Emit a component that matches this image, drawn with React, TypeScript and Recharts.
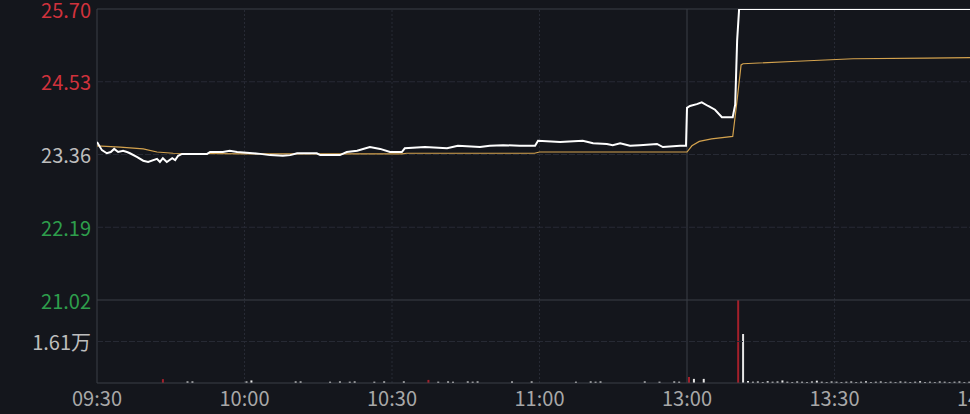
import React from 'react';
import { LineChart, ComposedChart, Line, Bar, Cell, XAxis, YAxis, ReferenceLine } from 'recharts';

// minutes since 09:30 (trading minutes, 11:30 == 13:00 == 120)
const priceMinutes = [0, 1.0, 2.0, 2.8, 3.5, 4.3, 5.3, 6.1, 6.7, 8.1, 9.4, 10.4, 12.2, 12.8, 13.4, 14.2, 15.3, 15.9, 16.5, 17.3, 22.4, 23.0, 25.6, 27.0, 28.5, 33.2, 35.2, 37.8, 39.3, 40.7, 44.7, 45.4, 49.4, 50.8, 52.9, 55.5, 57.6, 59.6, 62.0, 62.6, 66.7, 71.2, 73.4, 77.9, 79.9, 82.6, 86.0, 89.1, 89.7, 94.2, 98.8, 100.9, 103.7, 104.9, 106.4, 108.4, 110.4, 113.9, 115.1, 118.6, 119.8, 120, 120.6, 122.0, 123.0, 124.3, 125.7, 127.1, 129.3, 129.8, 130.2, 130.6, 180];
const priceValues = [23.56, 23.43, 23.38, 23.40, 23.45, 23.40, 23.42, 23.40, 23.38, 23.32, 23.26, 23.24, 23.29, 23.24, 23.30, 23.24, 23.30, 23.27, 23.34, 23.37, 23.37, 23.40, 23.40, 23.42, 23.40, 23.37, 23.35, 23.34, 23.35, 23.38, 23.38, 23.35, 23.35, 23.40, 23.42, 23.48, 23.45, 23.40, 23.40, 23.46, 23.48, 23.46, 23.50, 23.48, 23.50, 23.51, 23.50, 23.50, 23.58, 23.56, 23.58, 23.54, 23.53, 23.51, 23.54, 23.50, 23.51, 23.53, 23.48, 23.50, 23.50, 24.11, 24.14, 24.17, 24.20, 24.14, 24.08, 23.96, 23.96, 24.16, 25.20, 25.70, 25.70];

const avgMinutes = [0, 4.7, 9.4, 12.2, 15.5, 30, 62, 63, 89, 90, 120, 121, 122.5, 125, 129.3, 130.2, 131, 131.4, 142.4, 153.8, 168.8, 180];
const avgValues = [23.50, 23.48, 23.45, 23.40, 23.38, 23.37, 23.37, 23.38, 23.38, 23.40, 23.40, 23.50, 23.57, 23.61, 23.65, 24.24, 24.80, 24.82, 24.86, 24.90, 24.91, 24.92];

const volMinutes = [13, 18, 19, 30, 31, 40, 41, 47, 49, 51, 52, 56, 58, 62, 67, 69, 71, 72, 75, 76, 77, 84, 88, 97, 100, 101, 102, 111, 114, 117, 118, 120, 121, 123, 130, 131,
  132, 133, 134, 135, 136, 137, 138, 139, 140, 141, 142, 143, 144, 145, 146, 147, 148, 149, 150, 151, 152, 153, 154, 155, 156, 157, 158, 159, 160, 161, 162, 163, 164, 165, 166, 167, 168, 169, 170, 171, 172, 173, 174, 175, 176, 177, 178, 179];
const volValues = [0.15, 0.06, 0.06, 0.06, 0.10, 0.06, 0.06, 0.05, 0.06, 0.05, 0.06, 0.05, 0.06, 0.06, 0.12, 0.05, 0.06, 0.05, 0.06, 0.05, 0.06, 0.06, 0.06, 0.05, 0.06, 0.05, 0.06, 0.06, 0.05, 0.06, 0.05, 0.23, 0.16, 0.16, 3.22, 1.90,
  0.08, 0.05, 0.06, 0.04, 0.07, 0.05, 0.06, 0.10, 0.05, 0.04, 0.06, 0.05, 0.04, 0.06, 0.09, 0.05, 0.04, 0.06, 0.05, 0.04, 0.05, 0.06, 0.04, 0.05, 0.07, 0.04, 0.05, 0.06, 0.04, 0.05, 0.04, 0.06, 0.05, 0.04, 0.05, 0.07, 0.04, 0.05, 0.04, 0.06, 0.05, 0.04, 0.05, 0.06, 0.04, 0.05, 0.04, 0.05];
const redMinutes = [13, 67, 120, 130];

const preClose = 23.36;
const priceTicks = [21.02, 22.19, 23.36, 24.53, 25.70];
const volTicks = [1.61];
const volMax = 3.22;
const timeTicks = [0, 30, 60, 90, 120, 150, 180, 210, 240];
const timeLabels = ['09:30', '10:00', '10:30', '11:00', '13:00', '13:30', '14:00', '14:30', '15:00'];

const priceData = priceMinutes.map((m, i) => ({ m, p: priceValues[i] }));
const avgData = avgMinutes.map((m, i) => ({ m, a: avgValues[i] }));
const volData = volMinutes.map((m, i) => ({ m: m + 0.5, v: volValues[i], red: redMinutes.includes(m) }));

const BG = '#14161c';
const FONT = '"Noto Sans CJK SC", "Noto Sans", sans-serif';
const SOLID = '#3b3e47';
const DOT = '#272a34';
const RED = '#d0323c';
const GREEN = '#2e9e4c';
const GREY = '#bdbdbd';
const FS = 20;

const PriceTick = (props: any) => {
  const { x, y, payload } = props;
  const v = payload.value;
  const fill = v > preClose + 0.001 ? RED : v < preClose - 0.001 ? GREEN : GREY;
  return (
    <text x={x} y={y} textAnchor="end" dominantBaseline="central" fill={fill} fontSize={FS} fontFamily={FONT}>
      {v.toFixed(2)}
    </text>
  );
};

const VolTick = (props: any) => {
  const { x, y, payload } = props;
  return (
    <text x={x} y={y} textAnchor="end" dominantBaseline="central" fill={GREY} fontSize={FS} fontFamily={FONT}>
      {payload.value.toFixed(2) + '万'}
    </text>
  );
};

const TimeTick = (props: any) => {
  const { x, y, payload } = props;
  const idx = timeTicks.indexOf(payload.value);
  return (
    <text x={x} y={y} textAnchor="middle" dominantBaseline="central" fill="#a8a8a8" fontSize={FS} fontFamily={FONT}>
      {timeLabels[idx]}
    </text>
  );
};

const CHART_W = 1290;

export default function App() {
  return (
    <div style={{ position: 'absolute', left: 0, top: 0, width: 970, height: 414, overflow: 'hidden', background: BG }}>
      <div style={{ position: 'absolute', left: 0, top: 300 }}>
        <ComposedChart width={CHART_W} height={114} data={volData} margin={{ top: 0, right: 13, bottom: 0, left: 0 }}>
          <XAxis
            type="number"
            dataKey="m"
            domain={[0, 240]}
            ticks={timeTicks}
            interval={0}
            height={31}
            axisLine={false}
            tickLine={false}
            tickSize={6}
            tickMargin={8}
            tick={<TimeTick />}
            allowDataOverflow
          />
          <YAxis
            domain={[0, volMax]}
            ticks={volTicks}
            width={97}
            axisLine={false}
            tickLine={false}
            tickSize={4}
            tickMargin={2}
            tick={<VolTick />}
            interval={0}
            allowDataOverflow
          />
          {[30, 60, 90, 150, 180, 210].map((t) => (
            <ReferenceLine key={'vv' + t} x={t} stroke={DOT} strokeDasharray="2 2" />
          ))}
          <ReferenceLine x={0} stroke={SOLID} />
          <ReferenceLine x={120} stroke={SOLID} />
          <ReferenceLine y={1.61} stroke={DOT} strokeDasharray="6 2" />
          <ReferenceLine y={0} stroke={SOLID} />
          <Bar dataKey="v" barSize={2} isAnimationActive={false}>
            {volData.map((d, i) => (
              <Cell key={i} fill={d.red ? '#a3202b' : '#e6e6e6'} />
            ))}
          </Bar>
        </ComposedChart>
      </div>
      <div style={{ position: 'absolute', left: 0, top: 0 }}>
        <LineChart width={CHART_W} height={330} margin={{ top: 9, right: 13, bottom: 30, left: 0 }}>
          <XAxis type="number" dataKey="m" domain={[0, 240]} hide allowDataOverflow />
          <YAxis
            domain={[priceTicks[0], priceTicks[priceTicks.length - 1]]}
            ticks={priceTicks}
            width={97}
            axisLine={false}
            tickLine={false}
            tickSize={4}
            tickMargin={2}
            tick={<PriceTick />}
            interval={0}
            allowDataOverflow
          />
          {[30, 60, 90, 150, 180, 210].map((t) => (
            <ReferenceLine key={'v' + t} x={t} stroke={DOT} strokeDasharray="2 2" />
          ))}
          <ReferenceLine x={0} stroke={SOLID} />
          <ReferenceLine x={120} stroke={SOLID} />
          <ReferenceLine y={25.70} stroke={SOLID} />
          <ReferenceLine y={24.53} stroke={DOT} strokeDasharray="6 2" />
          <ReferenceLine y={23.36} stroke={DOT} strokeDasharray="6 2" />
          <ReferenceLine y={22.19} stroke={DOT} strokeDasharray="6 2" />
          <ReferenceLine y={21.02} stroke={SOLID} />
          <Line data={avgData} dataKey="a" type="linear" stroke="#d3a24e" strokeWidth={1.2} dot={false} isAnimationActive={false} />
          <Line data={priceData} dataKey="p" type="linear" stroke="#ffffff" strokeWidth={2} dot={false} isAnimationActive={false} />
        </LineChart>
      </div>
    </div>
  );
}
